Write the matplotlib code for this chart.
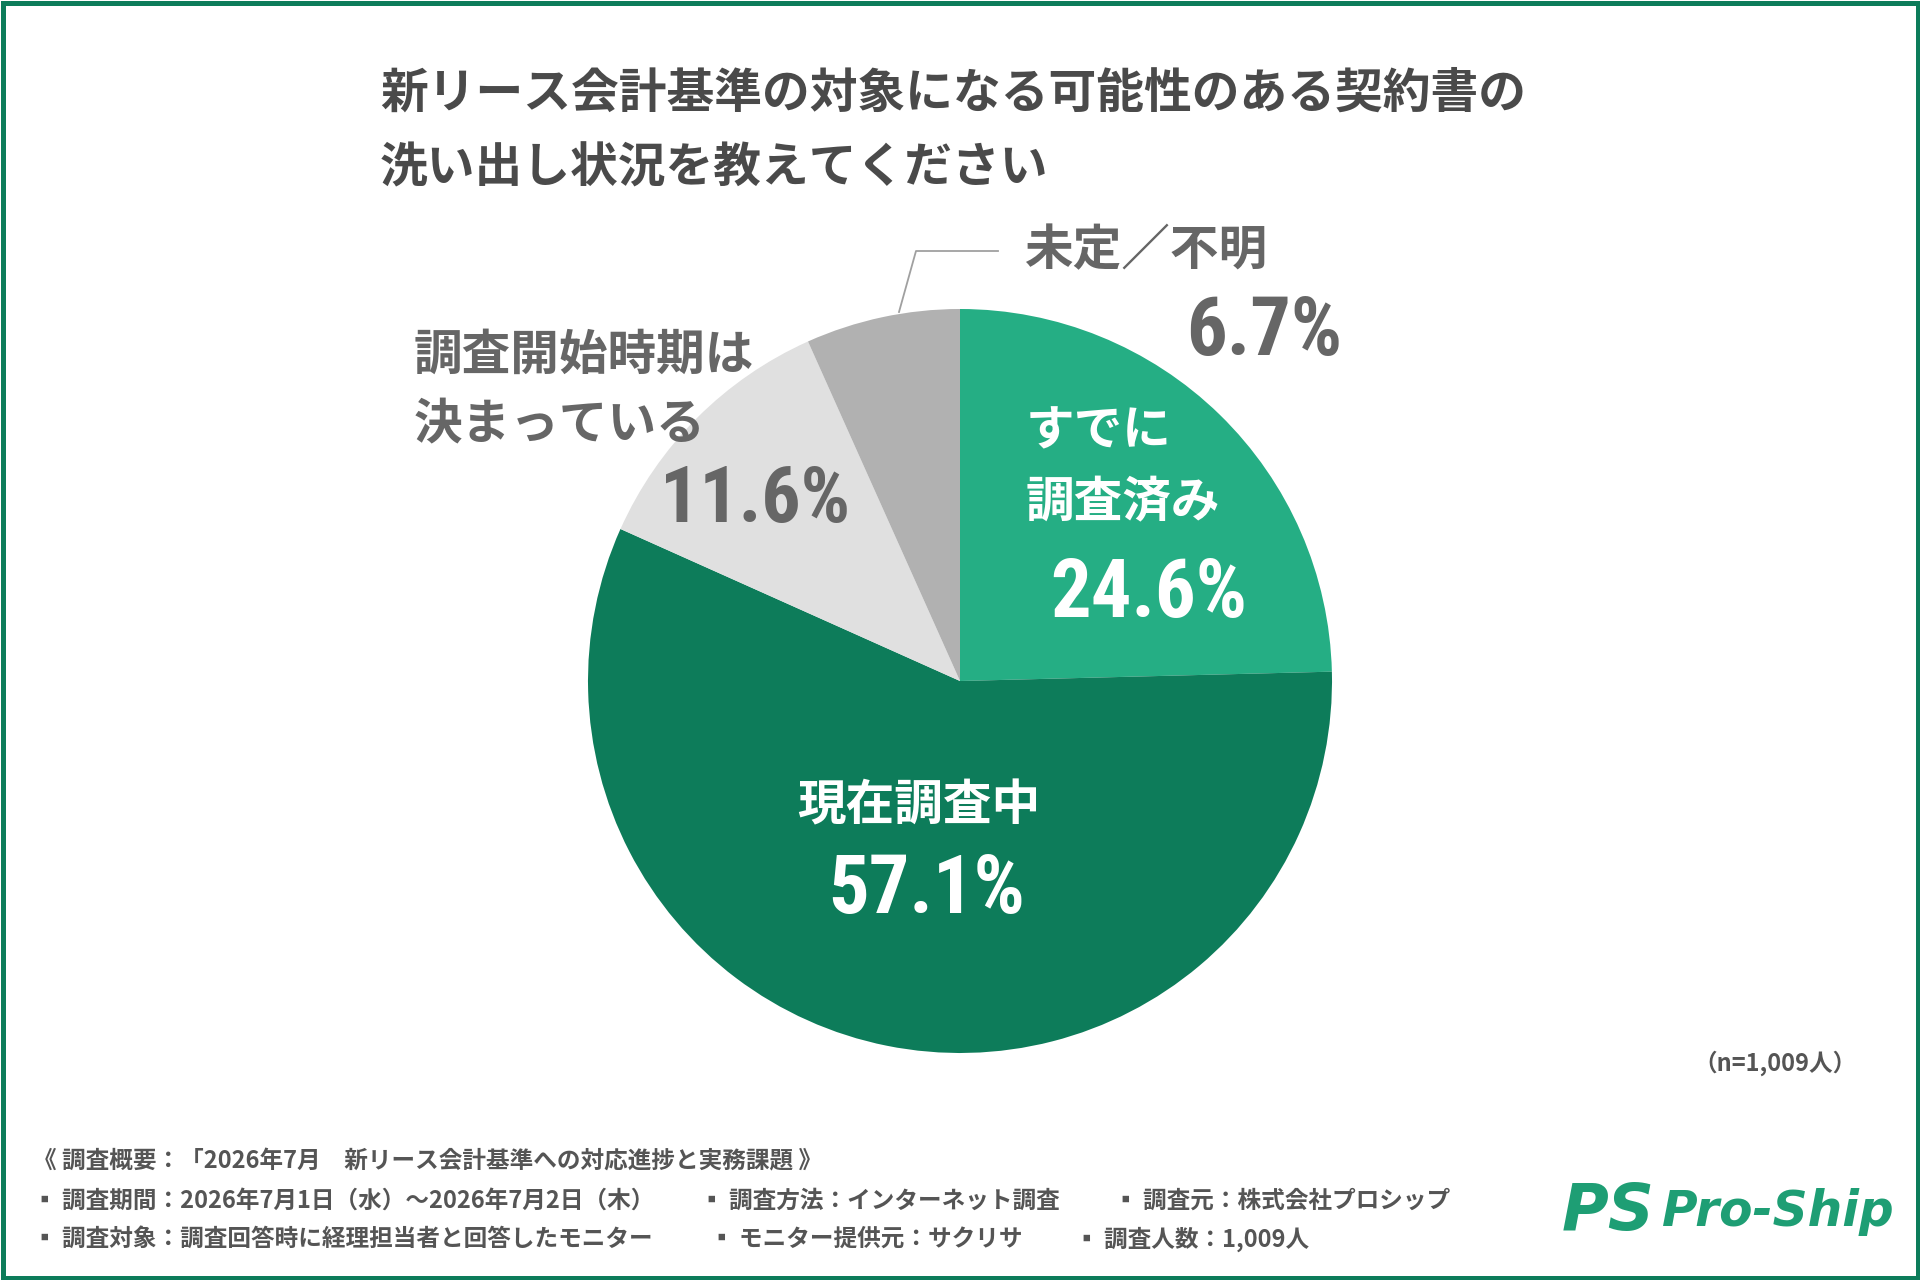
import matplotlib
matplotlib.use("Agg")
import matplotlib.pyplot as plt
from matplotlib.patches import Rectangle
from matplotlib import font_manager

plt.rcParams['font.family'] = ['Noto Sans CJK JP', 'DejaVu Sans']

# data
labels = ['すでに\n調査済み', '現在調査中', '調査開始時期は\n決まっている', '未定／不明']
values = [24.6, 57.1, 11.6, 6.7]
colors = ['#25AE84', '#0D7C5A', '#E0E0E0', '#B1B1B1']
n_total = '1,009'

title = '新リース会計基準の対象になる可能性のある契約書の\n洗い出し状況を教えてください'
footer_head = '《 調査概要：「2026年7月　新リース会計基準への対応進捗と実務課題 》'
footer_row1 = ['▪ 調査期間：2026年7月1日（水）〜2026年7月2日（木）',
               '▪ 調査方法：インターネット調査',
               '▪ 調査元：株式会社プロシップ']
footer_row2 = ['▪ 調査対象：調査回答時に経理担当者と回答したモニター',
               '▪ モニター提供元：サクリサ',
               '▪ 調査人数：1,009人']

W, H = 1920, 1280
def Y(p):
    return H - p

# narrow font for the big percentages if one is installed
installed = {f.name for f in font_manager.fontManager.ttflist}
numfont = ['Noto Sans CJK JP', 'DejaVu Sans']
numsize = 50
for cand in ['Roboto Condensed', 'Open Sans Condensed', 'DejaVu Sans Condensed',
             'Liberation Sans Narrow']:
    if cand in installed:
        numfont = [cand, 'Noto Sans CJK JP']
        numsize = 58
        break

fig = plt.figure(figsize=(19.2, 12.8), dpi=100)
ax = fig.add_axes([0, 0, 1, 1])

ax.pie(values, colors=colors, startangle=90, counterclock=False,
       center=(960, Y(681)), radius=372,
       wedgeprops=dict(linewidth=0))
ax.set_xlim(0, W)
ax.set_ylim(0, H)
ax.set_aspect('equal')
ax.axis('off')

dark = '#4A4A4A'
grey = '#666666'
green = '#1E9E74'

# title
ax.text(380, Y(93), title.split('\n')[0], fontsize=34.4, fontweight='bold',
        color=dark, ha='left', va='center')
ax.text(380, Y(168), title.split('\n')[1], fontsize=34.4, fontweight='bold',
        color=dark, ha='left', va='center')

pct = ['{:.1f}%'.format(v) for v in values]

# slice labels
lab0 = labels[0].split('\n')
ax.text(1026, Y(431), lab0[0], fontsize=35, fontweight='bold', color='white',
        ha='left', va='center')
ax.text(1026, Y(503), lab0[1], fontsize=35, fontweight='bold', color='white',
        ha='left', va='center')
ax.text(1149, Y(595), pct[0], fontsize=numsize, fontweight='bold', color='white',
        ha='center', va='center', family=numfont)

ax.text(919, Y(806), labels[1], fontsize=35, fontweight='bold', color='white',
        ha='center', va='center')
ax.text(927, Y(891), pct[1], fontsize=numsize, fontweight='bold', color='white',
        ha='center', va='center', family=numfont)

lab2 = labels[2].split('\n')
ax.text(414, Y(355), lab2[0], fontsize=35, fontweight='bold', color=grey,
        ha='left', va='center')
ax.text(414, Y(425), lab2[1], fontsize=35, fontweight='bold', color=grey,
        ha='left', va='center')
ax.text(755, Y(501), pct[2], fontsize=56, fontweight='bold', color=grey,
        ha='center', va='center', family=numfont)

ax.text(1024, Y(251), labels[3], fontsize=35, fontweight='bold', color=grey,
        ha='left', va='center')
ax.text(1264, Y(333), pct[3], fontsize=numsize, fontweight='bold', color=grey,
        ha='center', va='center', family=numfont)
ax.plot([899, 916, 998], [Y(312), Y(251), Y(251)], color='#A0A0A0', lw=1.3)

# n
ax.text(1857, Y(1063), '（n=' + n_total + '人）', fontsize=17, fontweight='bold',
        color='#555555', ha='right', va='center')

# footer
fc = '#555555'
ax.text(33, Y(1161), footer_head, fontsize=17, fontweight='bold', color=fc,
        ha='left', va='center')
for x, s in zip([33, 700, 1114], footer_row1):
    ax.text(x, Y(1201), s, fontsize=17, fontweight='bold', color=fc,
            ha='left', va='center')
for x, s in zip([33, 710, 1075], footer_row2):
    ax.text(x, Y(1239), s, fontsize=17, fontweight='bold', color=fc,
            ha='left', va='center')

# logo
ax.text(1562, Y(1212), 'PS', fontsize=46, fontweight='heavy', fontstyle='italic',
        color=green, ha='left', va='center', family='DejaVu Sans')
ax.text(1662, Y(1212), 'Pro-Ship', fontsize=35, fontweight='bold',
        fontstyle='italic', color=green, ha='left', va='center',
        family='DejaVu Sans')

# frame
ax.add_patch(Rectangle((2.5, 2.5), W - 5, H - 5, fill=False,
                       edgecolor='#0D7C5A', linewidth=3.6, clip_on=False))

fig.savefig('out.png', dpi=100, facecolor='white')
